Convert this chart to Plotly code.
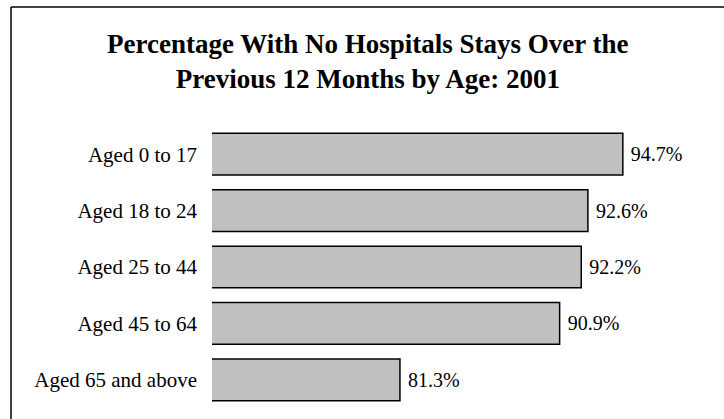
import plotly.graph_objects as go

categories = ["Aged 0 to 17", "Aged 18 to 24", "Aged 25 to 44", "Aged 45 to 64", "Aged 65 and above"]
values = [94.7, 92.6, 92.2, 90.9, 81.3]
labels = ["94.7%", "92.6%", "92.2%", "90.9%", "81.3%"]

W, H = 724, 419
L, R, T, B = 212, 13, 126, 11
pw, ph = W - L - R, H - T - B

def px_x(p):
    return (p - L) / pw

def px_y(p):
    return (H - B - p) / ph

fig = go.Figure(go.Bar(
    x=values, y=categories, orientation="h",
    marker=dict(color="#C0C0C0", line=dict(color="black", width=1.5)),
    text=[" " + s for s in labels], textposition="outside",
    textfont=dict(family="Liberation Serif", size=20, color="black"),
    cliponaxis=False,
))

fig.update_layout(
    width=W, height=H,
    margin=dict(l=L, r=R, t=T, b=B),
    paper_bgcolor="white", plot_bgcolor="white",
    bargap=0.26,
    showlegend=False,
    title=dict(
        text="<b>Percentage With No Hospitals Stays Over the<br>Previous 12 Months by Age: 2001</b>",
        x=0.508, xref="container", xanchor="center",
        y=1 - 53 / H, yref="container", yanchor="top",
        font=dict(family="Liberation Serif", size=27, color="black"),
    ),
    xaxis=dict(range=[70, 100], visible=False),
    yaxis=dict(
        categoryorder="array", categoryarray=categories, autorange="reversed",
        showline=False, showgrid=False, zeroline=False, ticks="",
        ticklabelstandoff=14,
        tickfont=dict(family="Liberation Serif", size=21, color="black"),
    ),
    shapes=[
        dict(type="line", xref="paper", yref="paper",
             x0=px_x(11), x1=px_x(724), y0=px_y(7), y1=px_y(7),
             line=dict(color="black", width=1.5)),
        dict(type="line", xref="paper", yref="paper",
             x0=px_x(11), x1=px_x(11), y0=px_y(7), y1=px_y(419),
             line=dict(color="black", width=1.5)),
    ],
)

fig.write_html("out.html")
